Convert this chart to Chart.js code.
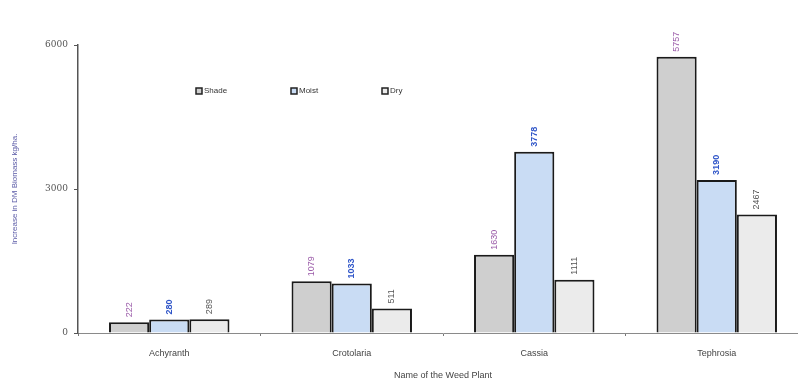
<!DOCTYPE html>
<html>
<head>
<meta charset="utf-8">
<script src="https://cdn.jsdelivr.net/npm/chart.js@4"></script>
<style>
  html, body { margin: 0; padding: 0; background: #fff; overflow: hidden; }
  #wrap { width: 812px; height: 381px; }
</style>
</head>
<body>
<div id="wrap"><canvas id="c" width="812" height="381"></canvas></div>
<script>
// weed biomass chart
const categories = ["Achyranth", "Crotolaria", "Cassia", "Tephrosia"];
const shade = [222, 1079, 1630, 5757];
const moist = [280, 1033, 3778, 3190];
const dry = [289, 511, 1111, 2467];
const yTicks = [0, 3000, 6000];

const seriesNames = ["Shade", "Moist", "Dry"];
const fills = ["#cfcfcf", "#c9dcf4", "#ebebeb"];
const labelColors = ["#9a5aa8", "#2f55c8", "#555555"];
const font = "Arial, 'Liberation Sans', sans-serif";

const barLabels = {
  id: "barLabels",
  afterDatasetsDraw(chart) {
    const { ctx } = chart;
    chart.data.datasets.forEach((ds, di) => {
      chart.getDatasetMeta(di).data.forEach((bar, i) => {
        ctx.save();
        ctx.translate(bar.x, bar.y - 5);
        ctx.rotate(-Math.PI / 2);
        ctx.font = (di === 1 ? "bold " : "") + "9px " + font;
        ctx.fillStyle = labelColors[di];
        ctx.textAlign = "left";
        ctx.textBaseline = "middle";
        ctx.fillText(String(ds.data[i]), 0, 0);
        ctx.restore();
      });
    });
  },
};

const legendBoxes = {
  id: "legendBoxes",
  afterDraw(chart) {
    const { ctx } = chart;
    const xs = [196, 291, 382];
    const y = 91;
    ctx.save();
    ctx.font = "8px " + font;
    ctx.textBaseline = "middle";
    seriesNames.forEach((name, i) => {
      ctx.fillStyle = fills[i];
      ctx.fillRect(xs[i], y - 3, 6, 6);
      ctx.strokeStyle = "#222";
      ctx.lineWidth = 1.5;
      ctx.strokeRect(xs[i], y - 3, 6, 6);
      ctx.fillStyle = "#333";
      ctx.fillText(name, xs[i] + 8, y);
    });
    ctx.restore();
  },
};

new Chart(document.getElementById("c"), {
  type: "bar",
  data: {
    labels: categories,
    datasets: [shade, moist, dry].map((d, i) => ({
      label: seriesNames[i],
      data: d,
      backgroundColor: fills[i],
      borderColor: "#1a1a1a",
      borderWidth: 2,
      borderSkipped: "bottom",
      categoryPercentage: 0.66,
      barPercentage: 1,
    })),
  },
  options: {
    responsive: false,
    animation: false,
    events: [],
    layout: { padding: { left: 10, right: 4, top: 45, bottom: 0 } },
    plugins: { legend: { display: false }, tooltip: { enabled: false } },
    scales: {
      x: {
        grid: { display: true, drawOnChartArea: false, offset: true, tickLength: 3, color: "#666", tickColor: "#777" },
        border: { color: "#8a8a8a", width: 1 },
        ticks: { color: "#444", font: { family: font, size: 9 }, padding: 12 },
        title: { display: true, text: "Name of the Weed Plant", color: "#444", font: { family: font, size: 9 }, padding: { top: 5, bottom: 0 } },
        afterFit: (s) => { s.height = 48; },
      },
      y: {
        min: 0,
        max: 6000,
        afterBuildTicks: (s) => { s.ticks = yTicks.map((v) => ({ value: v })); },
        grid: { display: true, drawOnChartArea: false, tickLength: 4, color: "#555" },
        border: { color: "#555", width: 1.5 },
        ticks: { color: "#555", font: { family: "'DejaVu Serif', serif", size: 9 }, padding: 6, callback: (v) => String(v) },
        title: { display: true, text: "Increase in DM Biomass kg/ha.", color: "#5a5aa6", font: { family: font, size: 8 }, padding: { top: 0, bottom: 0 } },
        afterFit: (s) => { s.width = 68; },
      },
    },
  },
  plugins: [barLabels, legendBoxes],
});
</script>
</body>
</html>
